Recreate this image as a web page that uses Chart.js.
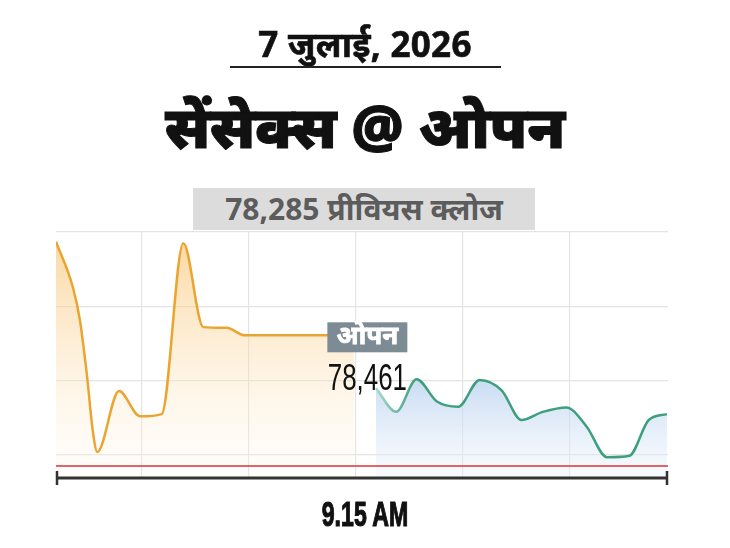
<!DOCTYPE html>
<html>
<head>
<meta charset="utf-8">
<script src="https://cdn.jsdelivr.net/npm/chart.js@4.4.6/dist/chart.umd.min.js"></script>
<style>
  html, body { margin: 0; padding: 0; background: #fff; }
  #wrap { position: relative; width: 730px; height: 548px; overflow: hidden; }
  #chart { position: absolute; left: 0; top: 0; }
  .t { position: absolute; left: 0; width: 730px; text-align: center; font-family: "Noto Sans", sans-serif; font-weight: 700; color: #111; margin: 0; }
  #date { top: 20px; font-size: 35px; letter-spacing: 0.3px; -webkit-text-stroke: 0.6px #111; }
  #rule { position: absolute; left: 230px; top: 66px; width: 271px; height: 2px; background: #222; }
  #title { top: 86px; font-size: 58px; font-weight: 900; -webkit-text-stroke: 1px #111; }
  #prev { position: absolute; left: 193px; top: 188px; width: 342px; height: 42px; background: #dcdcdc; color: #5c5c5c; font-family: "Noto Sans", sans-serif; font-weight: 700; font-size: 30px; line-height: 42px; text-align: center; }
  #time { top: 494px; font-size: 35px; font-family: "Liberation Sans", Arial, sans-serif; -webkit-text-stroke: 1.2px #111; transform: scaleX(0.66); transform-origin: 365px 0; }
</style>
</head>
<body>
<div id="wrap">
  <canvas id="chart" width="730" height="548"></canvas>
  <div class="t" id="date">7 जुलाई, 2026</div>
  <div id="rule"></div>
  <div class="t" id="title">सेंसेक्स @ ओपन</div>
  <div id="prev">78,285 प्रीवियस क्लोज</div>
  <div class="t" id="time">9.15 AM</div>
</div>
<script>
  // axis ranges
  const xMin = 0, xMax = 57.2;
  const yMin = 78269, yMax = 78600;
  const gridX = [8, 18, 28, 38, 48];
  const gridY = [78300, 78400, 78500, 78600];

  const previousClose = 78285;
  const openValue = 78461;
  const openLabelX = 29.1;

  // pre-open series (orange)
  const preX = [0, 1.59, 2.24, 2.87, 3.46, 3.86, 5.89, 7.85, 9.88, 11.9, 13.77, 15.95, 17.66, 25.3, 27.85];
  const preY = [78587, 78525, 78481, 78410, 78330, 78304, 78386, 78352, 78355, 78585, 78472, 78471, 78461, 78461, 78461];

  // after open series (green)
  const liveX = [29.9, 31.8, 33.7, 35.6, 37.6, 39.6, 41.65, 43.5, 45.5, 47.7, 49.6, 51.5, 53.6, 55.4, 57.1];
  const liveY = [78390, 78358, 78402, 78372, 78365, 78401, 78387, 78347, 78358, 78364, 78338, 78297, 78299, 78347, 78355];

  const toPoints = (xs, ys) => xs.map((x, i) => ({ x, y: ys[i] }));

  function vGradient(chart, topValue, stops) {
    const a = chart.chartArea;
    if (!a) return null;
    const top = chart.scales.y.getPixelForValue(topValue);
    const g = chart.ctx.createLinearGradient(0, top, 0, a.bottom);
    stops.forEach(s => g.addColorStop(s[0], s[1]));
    return g;
  }

  const openLabel = {
    id: "openLabel",
    afterDatasetsDraw(chart) {
      const { ctx, scales: { x, y } } = chart;
      const cx = x.getPixelForValue(openLabelX);
      const cy = y.getPixelForValue(openValue);
      ctx.save();
      ctx.fillStyle = "#7d8b95";
      ctx.fillRect(cx - 40, cy - 13, 80, 30);
      ctx.fillStyle = "#fff";
      ctx.strokeStyle = "#fff";
      ctx.lineWidth = 0.8;
      ctx.textAlign = "center";
      ctx.textBaseline = "middle";
      ctx.font = "700 26px 'Noto Sans', sans-serif";
      ctx.fillText("ओपन", cx, cy + 1);
      ctx.strokeText("ओपन", cx, cy + 1);
      ctx.fillStyle = "#111";
      ctx.translate(cx, cy + 44);
      ctx.scale(0.7, 1);
      ctx.font = "400 37px 'Liberation Sans', Arial, sans-serif";
      ctx.fillText("78,461", 0, 0);
      ctx.restore();
    }
  };

  const axisBar = {
    id: "axisBar",
    afterDraw(chart) {
      const { ctx, chartArea: a } = chart;
      ctx.save();
      ctx.strokeStyle = "#333";
      ctx.lineWidth = 3;
      ctx.beginPath();
      ctx.moveTo(a.left, a.bottom);
      ctx.lineTo(a.right, a.bottom);
      ctx.stroke();
      ctx.lineWidth = 2.5;
      ctx.beginPath();
      ctx.moveTo(a.left + 1, a.bottom - 7);
      ctx.lineTo(a.left + 1, a.bottom + 7);
      ctx.moveTo(a.right - 1, a.bottom - 7);
      ctx.lineTo(a.right - 1, a.bottom + 7);
      ctx.stroke();
      ctx.restore();
    }
  };

  new Chart(document.getElementById("chart"), {
    type: "line",
    data: {
      datasets: [
        {
          data: [{ x: xMin, y: previousClose }, { x: xMax, y: previousClose }],
          borderColor: "#d8333a",
          borderWidth: 1.5,
          pointRadius: 0,
          fill: false
        },
        {
          data: toPoints(preX, preY),
          borderColor: "#eaa531",
          borderWidth: 2.5,
          pointRadius: 0,
          cubicInterpolationMode: "monotone",
          fill: "start",
          backgroundColor: ctx => vGradient(ctx.chart, yMax, [[0, "rgba(248,190,100,0.62)"], [1, "rgba(255,248,236,0.2)"]])
        },
        {
          data: toPoints(liveX, liveY),
          borderColor: ctx => {
            const a = ctx.chart.chartArea;
            if (!a) return "#3e9f7c";
            const xs = ctx.chart.scales.x;
            const g = ctx.chart.ctx.createLinearGradient(xs.getPixelForValue(liveX[0]), 0, xs.getPixelForValue(liveX[2]), 0);
            g.addColorStop(0, "#a9d8cb");
            g.addColorStop(1, "#3e9f7c");
            return g;
          },
          borderWidth: 2.5,
          pointRadius: 0,
          cubicInterpolationMode: "monotone",
          fill: "start",
          backgroundColor: ctx => vGradient(ctx.chart, 78405, [[0, "rgba(180,206,238,0.75)"], [1, "rgba(235,243,252,0.35)"]])
        }
      ]
    },
    options: {
      responsive: false,
      animation: false,
      events: [],
      layout: { padding: { left: 56, right: 62, top: 232, bottom: 70 } },
      plugins: { legend: { display: false }, tooltip: { enabled: false } },
      scales: {
        x: {
          type: "linear",
          min: xMin,
          max: xMax,
          afterBuildTicks: axis => { axis.ticks = gridX.map(v => ({ value: v })); },
          ticks: { display: false },
          grid: { color: "#e4e4e4", lineWidth: 1.2, drawTicks: false },
          border: { display: false }
        },
        y: {
          min: yMin,
          max: yMax,
          afterBuildTicks: axis => { axis.ticks = gridY.map(v => ({ value: v })); },
          ticks: { display: false },
          grid: { color: "#e4e4e4", lineWidth: 1.2, drawTicks: false },
          border: { display: false }
        }
      }
    },
    plugins: [openLabel, axisBar]
  });
</script>
</body>
</html>
